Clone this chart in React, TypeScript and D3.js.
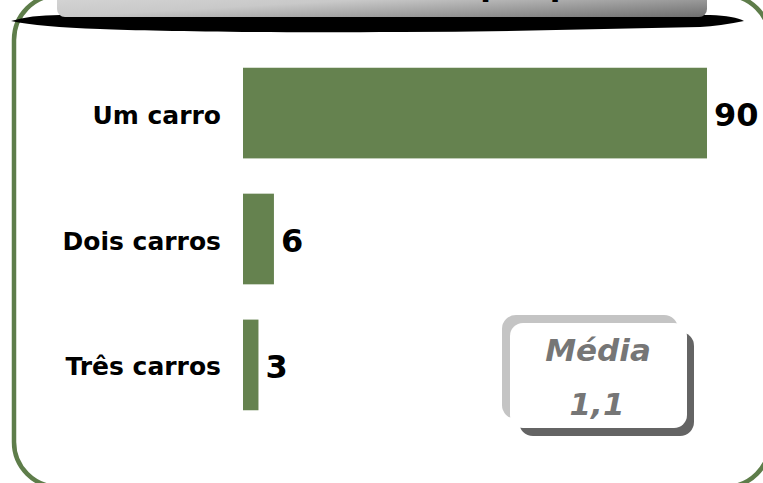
import React from "react";
import * as d3 from "d3";

const categories = ["Um carro", "Dois carros", "Três carros"];
const values = [90, 6, 3];
const titleText = "Quantidade de carros por pessoa";
const meanLabel = "Média";
const meanValue = "1,1";

const W = 763;
const H = 483;

export default function App() {
  const x = d3.scaleLinear().domain([0, 90]).range([243, 707]);
  const y = d3
    .scaleBand<string>()
    .domain(categories)
    .range([35, 443])
    .paddingInner(0.28)
    .paddingOuter(0.26);

  const green = "#65824f";
  const font = "'DejaVu Sans', Verdana, sans-serif";

  const shadowPath =
    "M11,21 Q30,15 60,15 L710,15 Q735,16 744,21 Q720,26 700,27 C600,29 500,32 400,32 C250,33 150,31 100,29 Q40,27 11,21 Z";

  return (
    <svg
      width={W}
      height={H}
      style={{ position: "absolute", left: 0, top: 0, background: "#fff" }}
    >
      <defs>
        <linearGradient id="titleGrad" x1="0" y1="0" x2="1" y2="1" gradientUnits="objectBoundingBox">
          <stop offset="0" stopColor="#dedede" />
          <stop offset="0.5" stopColor="#c9c9c9" />
          <stop offset="1" stopColor="#6e6e6e" />
        </linearGradient>
      </defs>

      {/* outer green rounded frame */}
      <rect
        x={14}
        y={-5}
        width={756}
        height={492}
        rx={45}
        ry={45}
        fill="none"
        stroke="#5e7d4a"
        strokeWidth={4.5}
      />

      {/* title shadow */}
      <path d={shadowPath} fill="#000" />
      {/* title box */}
      <rect x={57} y={-20} width={650} height={37} rx={8} ry={8} fill="url(#titleGrad)" />
      <text
        x={382}
        y={-4}
        textAnchor="middle"
        fontFamily={font}
        fontWeight="bold"
        fontSize={31}
        fill="#000"
      >
        {titleText}
      </text>

      {/* bars */}
      {categories.map((c, i) => (
        <g key={c}>
          <rect
            x={x(0)}
            y={y(c)}
            width={x(values[i]) - x(0)}
            height={y.bandwidth()}
            fill={green}
          />
          <text
            x={221}
            y={(y(c) as number) + y.bandwidth() / 2}
            dy="0.42em"
            textAnchor="end"
            fontFamily={font}
            fontWeight="bold"
            fontSize={25}
            fill="#000"
          >
            {c}
          </text>
          <text
            x={x(values[i]) + 7}
            y={(y(c) as number) + y.bandwidth() / 2}
            dy="0.4em"
            textAnchor="start"
            fontFamily={font}
            fontWeight="bold"
            fontSize={32}
            fill="#000"
          >
            {values[i]}
          </text>
        </g>
      ))}

      {/* mean box */}
      <rect x={502} y={315} width={176} height={104} rx={14} ry={14} fill="#c4c4c4" />
      <rect x={519} y={332} width={175} height={104} rx={14} ry={14} fill="#646464" />
      <rect x={510} y={323} width={177} height={105} rx={13} ry={13} fill="#fff" />
      <text
        x={598}
        y={361}
        textAnchor="middle"
        fontFamily={font}
        fontWeight="bold"
        fontStyle="italic"
        fontSize={31}
        fill="#767676"
      >
        {meanLabel}
      </text>
      <text
        x={597}
        y={415}
        textAnchor="middle"
        fontFamily={font}
        fontWeight="bold"
        fontStyle="italic"
        fontSize={31}
        fill="#767676"
      >
        {meanValue}
      </text>
    </svg>
  );
}
